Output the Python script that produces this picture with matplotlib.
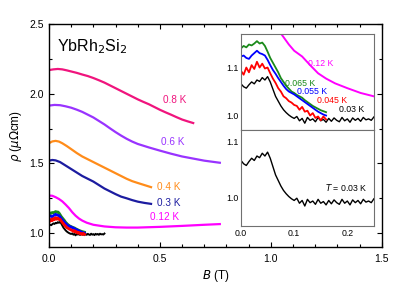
import matplotlib
matplotlib.use("Agg")
import matplotlib.pyplot as plt
from matplotlib.ticker import MultipleLocator

plt.rcParams['font.family'] = ['Liberation Sans', 'DejaVu Sans']

# ---------------- data ----------------
B_08 = [0, 0.02, 0.04, 0.06, 0.08, 0.1, 0.125, 0.15, 0.175, 0.2, 0.225, 0.25, 0.275, 0.3,
        0.325, 0.35, 0.375, 0.4, 0.425, 0.45, 0.475, 0.5, 0.525, 0.55, 0.575, 0.6, 0.625, 0.65]
rho_08 = [2.17, 2.175, 2.178, 2.175, 2.168, 2.16, 2.15, 2.138, 2.127, 2.113, 2.097, 2.08, 2.06, 2.04,
          2.02, 2.0, 1.98, 1.96, 1.942, 1.925, 1.905, 1.885, 1.867, 1.85, 1.832, 1.815, 1.802, 1.79]

B_06 = [0, 0.025, 0.05, 0.075, 0.1, 0.125, 0.15, 0.175, 0.2, 0.225, 0.25, 0.275, 0.3, 0.325,
        0.35, 0.375, 0.4, 0.45, 0.5, 0.55, 0.6, 0.65, 0.7, 0.77]
rho_06 = [1.915, 1.92, 1.918, 1.91, 1.9, 1.886, 1.87, 1.85, 1.83, 1.805, 1.78, 1.752, 1.725, 1.7,
          1.677, 1.657, 1.64, 1.615, 1.592, 1.57, 1.55, 1.535, 1.52, 1.505]

B_04 = [0, 0.015, 0.03, 0.045, 0.06, 0.08, 0.1, 0.125, 0.15, 0.175, 0.2, 0.225, 0.25, 0.275,
        0.3, 0.325, 0.35, 0.375, 0.4, 0.43, 0.46]
rho_04 = [1.645, 1.658, 1.662, 1.657, 1.645, 1.625, 1.603, 1.575, 1.55, 1.53, 1.51, 1.49, 1.47, 1.45,
          1.43, 1.41, 1.39, 1.373, 1.36, 1.345, 1.33]

B_03 = [0, 0.015, 0.03, 0.05, 0.07, 0.1, 0.125, 0.15, 0.175, 0.2, 0.225, 0.25, 0.275, 0.3,
        0.325, 0.35, 0.375, 0.4, 0.43, 0.46]
rho_03 = [1.52, 1.525, 1.522, 1.51, 1.49, 1.46, 1.435, 1.41, 1.39, 1.37, 1.345, 1.32, 1.3, 1.28,
          1.262, 1.25, 1.237, 1.226, 1.217, 1.21]

B_012 = [0, 0.015, 0.03, 0.045, 0.06, 0.075, 0.09, 0.105, 0.12, 0.135, 0.15, 0.17, 0.2, 0.25,
         0.3, 0.35, 0.4, 0.5, 0.6, 0.7, 0.77]
rho_012 = [1.27, 1.268, 1.258, 1.245, 1.228, 1.205, 1.18, 1.15, 1.125, 1.105, 1.09, 1.075, 1.06, 1.048,
           1.042, 1.04, 1.04, 1.045, 1.052, 1.06, 1.065]

# 0.12 K as shown in the upper inset
B_012_ins = [0.06, 0.077, 0.09, 0.1, 0.115, 0.13, 0.145, 0.16, 0.177, 0.2, 0.225, 0.25]
rho_012_ins = [1.2, 1.168, 1.148, 1.135, 1.123, 1.105, 1.088, 1.077, 1.067, 1.057, 1.047, 1.04]

# low-temperature curves (field step 0.005 T)
B_low = [0.000, 0.005, 0.010, 0.015, 0.020, 0.025, 0.030, 0.035, 0.040, 0.045,
         0.050, 0.055, 0.060, 0.065, 0.070, 0.075, 0.080, 0.085, 0.090, 0.095,
         0.100, 0.105, 0.110, 0.115, 0.120, 0.125, 0.130, 0.135, 0.140, 0.145,
         0.150, 0.155, 0.160]
rho_0065 = [1.140, 1.145, 1.142, 1.148, 1.146, 1.150, 1.155, 1.150, 1.152, 1.145,
            1.133, 1.120, 1.110, 1.100, 1.090, 1.078, 1.070, 1.062, 1.056, 1.050,
            1.047, 1.043, 1.040, 1.037, 1.032, 1.028, 1.024, 1.020, 1.017, 1.014,
            1.011, 1.009, 1.007]
rho_0055 = [1.123, 1.125, 1.120, 1.118, 1.125, 1.130, 1.135, 1.130, 1.128, 1.125,
            1.116, 1.105, 1.095, 1.087, 1.078, 1.070, 1.062, 1.055, 1.050, 1.047,
            1.044, 1.040, 1.036, 1.032, 1.028, 1.024, 1.020, 1.016, 1.012, 1.008,
            1.005, 1.002, 1.000]
rho_0045 = [1.093, 1.085, 1.100, 1.090, 1.105, 1.097, 1.112, 1.100, 1.108, 1.098,
            1.100, 1.088, 1.077, 1.068, 1.057, 1.050, 1.040, 1.036, 1.030, 1.027,
            1.022, 1.020, 1.012, 1.018, 1.008, 1.010, 1.000, 1.005, 0.995, 0.998,
            0.990, 0.998, 0.992]

B_003 = [0.000, 0.005, 0.010, 0.015, 0.020, 0.025, 0.030, 0.035, 0.040, 0.045,
         0.050, 0.055, 0.060, 0.065, 0.070, 0.075, 0.080, 0.085, 0.090, 0.095,
         0.100, 0.105, 0.110, 0.115, 0.120, 0.125, 0.130, 0.135, 0.140, 0.145,
         0.150, 0.155, 0.160, 0.165, 0.170, 0.175, 0.180, 0.185, 0.190, 0.195,
         0.200, 0.205, 0.210, 0.215, 0.220, 0.225, 0.230, 0.235, 0.240, 0.245,
         0.250]
rho_003 = [1.066, 1.060, 1.057, 1.064, 1.070, 1.066, 1.074, 1.071, 1.079, 1.074,
           1.081, 1.070, 1.055, 1.040, 1.030, 1.020, 1.012, 1.006, 1.001, 0.997,
           0.994, 0.998, 0.989, 0.994, 0.984, 0.996, 0.990, 0.993, 0.987, 0.996,
           0.989, 0.992, 0.986, 0.994, 0.988, 0.995, 0.990, 0.987, 0.996, 0.989,
           0.993, 0.986, 0.995, 0.990, 0.994, 0.988, 0.996, 0.991, 0.993, 0.990,
           0.997]

c08, c06, c04, c03, c012 = '#f0147d', '#9933ff', '#ff8c1a', '#1c1ca0', '#ff00ff'
c0065, c0055, c0045, c003 = '#1a8a1a', '#0000ff', '#ff0000', '#000000'

# ---------------- figure ----------------
fig = plt.figure(figsize=(4.15, 2.9), dpi=100)
ax = fig.add_axes([0.118, 0.148, 0.802, 0.769])

lw = 1.6
ax.plot(B_08, rho_08, color=c08, lw=lw)
ax.plot(B_06, rho_06, color=c06, lw=lw)
ax.plot(B_04, rho_04, color=c04, lw=lw)
ax.plot(B_03, rho_03, color=c03, lw=lw)
ax.plot(B_012, rho_012, color=c012, lw=lw)
ax.plot(B_003, rho_003, color=c003, lw=1.4)
ax.plot(B_low, rho_0065, color=c0065, lw=2.0)
ax.plot(B_low, rho_0055, color=c0055, lw=2.0)
ax.plot(B_low, rho_0045, color=c0045, lw=2.0)

ax.set_xlim(0, 1.5)
ax.set_ylim(0.9, 2.5)
ax.xaxis.set_major_locator(MultipleLocator(0.5))
ax.xaxis.set_minor_locator(MultipleLocator(0.1))
ax.yaxis.set_major_locator(MultipleLocator(0.5))
ax.yaxis.set_minor_locator(MultipleLocator(0.25))
ax.xaxis.set_major_formatter(plt.FormatStrFormatter('%.1f'))
ax.yaxis.set_major_formatter(plt.FormatStrFormatter('%.1f'))
ax.tick_params(which='both', direction='in', top=True, right=True, labelsize=7.5, width=0.8)
ax.tick_params(which='major', length=3.5)
ax.tick_params(which='minor', length=2.5)
ax.tick_params(axis='x', pad=5)
for s in ax.spines.values():
    s.set_linewidth(1.0)

ax.set_xlabel(r'$\it{B}$ (T)', fontsize=8.5, labelpad=3)
ax.set_ylabel(r'$\rho$ ($\mu\Omega$cm)', fontsize=8.5, labelpad=4)
ax.text(0.035, 2.34, r'YbRh$_2$Si$_2$', fontsize=11.5, color='black', va='center')

lbl = dict(fontsize=7.2, va='center', ha='left')
ax.text(0.513, 1.952, '0.8 K', color=c08, **lbl)
ax.text(0.505, 1.652, '0.6 K', color=c06, **lbl)
ax.text(0.486, 1.334, '0.4 K', color=c04, **lbl)
ax.text(0.486, 1.219, '0.3 K', color=c03, **lbl)
ax.text(0.455, 1.119, '0.12 K', color=c012, **lbl)

# ---------------- insets ----------------
frame_col = '#707070'
ax1 = fig.add_axes([0.5807, 0.552, 0.3203, 0.331])
ax2 = fig.add_axes([0.5807, 0.2207, 0.3203, 0.3313])

ax1.plot(B_012_ins, rho_012_ins, color=c012, lw=1.4)
ax1.plot(B_003, rho_003, color=c003, lw=1.0)
ax1.plot(B_low, rho_0065, color=c0065, lw=1.3)
ax1.plot(B_low, rho_0055, color=c0055, lw=1.3)
ax1.plot(B_low, rho_0045, color=c0045, lw=1.3)
ax1.set_xlim(0, 0.25)
ax1.set_ylim(0.97, 1.17)

ax2.plot(B_003, rho_003, color=c003, lw=1.0)
ax2.set_xlim(0, 0.25)
ax2.set_ylim(0.948, 1.121)

for a in (ax1, ax2):
    a.set_yticks([1.0, 1.1])
    a.yaxis.set_major_formatter(plt.FormatStrFormatter('%.1f'))
    a.set_xticks([0.0, 0.1, 0.2])
    a.xaxis.set_major_formatter(plt.FormatStrFormatter('%.1f'))
    a.tick_params(length=0, labelsize=6.3, pad=2)
    for s in a.spines.values():
        s.set_color(frame_col)
        s.set_linewidth(0.8)
ax1.tick_params(labelbottom=False)

il = dict(fontsize=6.3, va='center', ha='left')
ax1.text(0.126, 1.109, '0.12 K', color=c012, **il)
ax1.text(0.083, 1.0675, '0.065 K', color=c0065, **il)
ax1.text(0.105, 1.050, '0.055 K', color=c0055, **il)
ax1.text(0.143, 1.031, '0.045 K', color=c0045, **il)
ax1.text(0.185, 1.012, '0.03 K', color=c003, **il)
ax2.text(0.158, 1.017, r'$\it{T}$ = 0.03 K', color='black', **il)

fig.savefig('out.png', dpi=100)
